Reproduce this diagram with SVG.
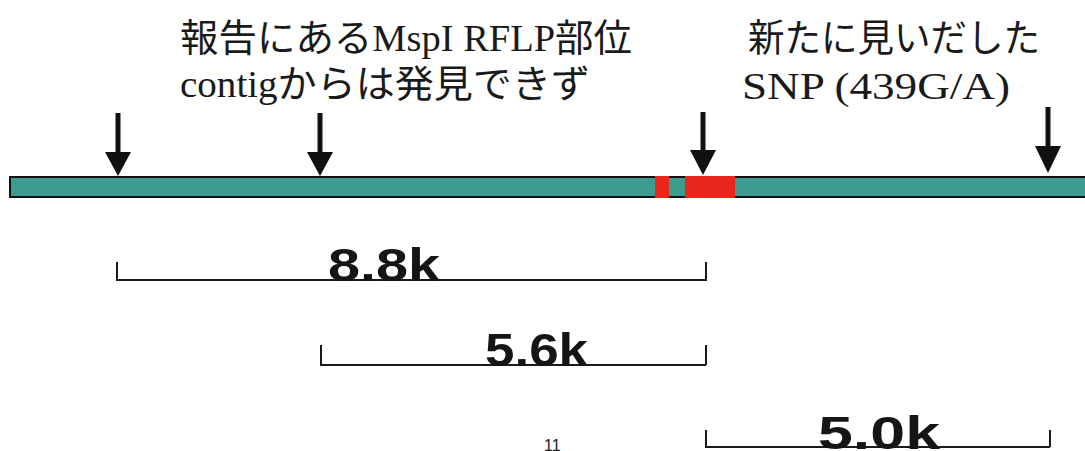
<svg xmlns="http://www.w3.org/2000/svg" width="1085" height="451" viewBox="0 0 1085 451">
<style>
.lbl{font-family:"Liberation Serif","Noto Sans CJK JP",serif;font-size:38px;fill:#1a1a1a}
.num{font-family:"Liberation Sans",Arial,sans-serif;font-weight:bold;font-size:46px;fill:#151515}
.scale{stroke:#1a1a1a;stroke-width:2;fill:none}
.shaft{stroke:#111;stroke-width:5}
.head{fill:#111}
</style>
<rect width="1085" height="451" fill="#ffffff"/>
<g id="labels">
<text class="lbl" x="180" y="51" textLength="452" lengthAdjust="spacingAndGlyphs">報告にあるMspI RFLP部位</text>
<text class="lbl" x="180" y="97" textLength="410" lengthAdjust="spacingAndGlyphs">contigからは発見できず</text>
<text class="lbl" x="748" y="51" textLength="292" lengthAdjust="spacingAndGlyphs">新たに見いだした</text>
<text class="lbl" x="742" y="99" textLength="268" lengthAdjust="spacingAndGlyphs">SNP (439G/A)</text>
</g>
<g id="contig">
<rect x="10" y="177" width="1080" height="20" fill="#3c9c8e" stroke="#111" stroke-width="2"/>
<rect x="655" y="176" width="14" height="22" fill="#e8261c"/>
<rect x="685" y="176" width="50" height="22" fill="#e8261c"/>
</g>
<g id="connectors">
<line class="shaft" x1="118" y1="113" x2="118" y2="154"/>
<polygon class="head" points="105,152 131,152 118,176"/>
<line class="shaft" x1="320" y1="113" x2="320" y2="154"/>
<polygon class="head" points="307,152 333,152 320,176"/>
<line class="shaft" x1="703" y1="112" x2="703" y2="152"/>
<polygon class="head" points="690,150 716,150 703,175"/>
<line class="shaft" x1="1048" y1="107" x2="1048" y2="148"/>
<polygon class="head" points="1035,146 1061,146 1048,173"/>
</g>
<g id="scale-88">
<path class="scale" d="M117,262 V280 H706 M706,262 V281"/>
<text class="num" x="328" y="281" textLength="112" lengthAdjust="spacingAndGlyphs">8.8k</text>
</g>
<g id="scale-56">
<path class="scale" d="M321,345 V365 H706 M706,345 V365"/>
<text class="num" x="485" y="366" textLength="103" lengthAdjust="spacingAndGlyphs">5.6k</text>
</g>
<g id="scale-50">
<path class="scale" d="M706,430 V447 H1050 M1050,430 V447"/>
<text class="num" x="818" y="449" textLength="122" lengthAdjust="spacingAndGlyphs">5.0k</text>
</g>
<text x="544" y="451" font-family="Liberation Sans, Arial, sans-serif" font-size="16" fill="#222">11</text>
</svg>
